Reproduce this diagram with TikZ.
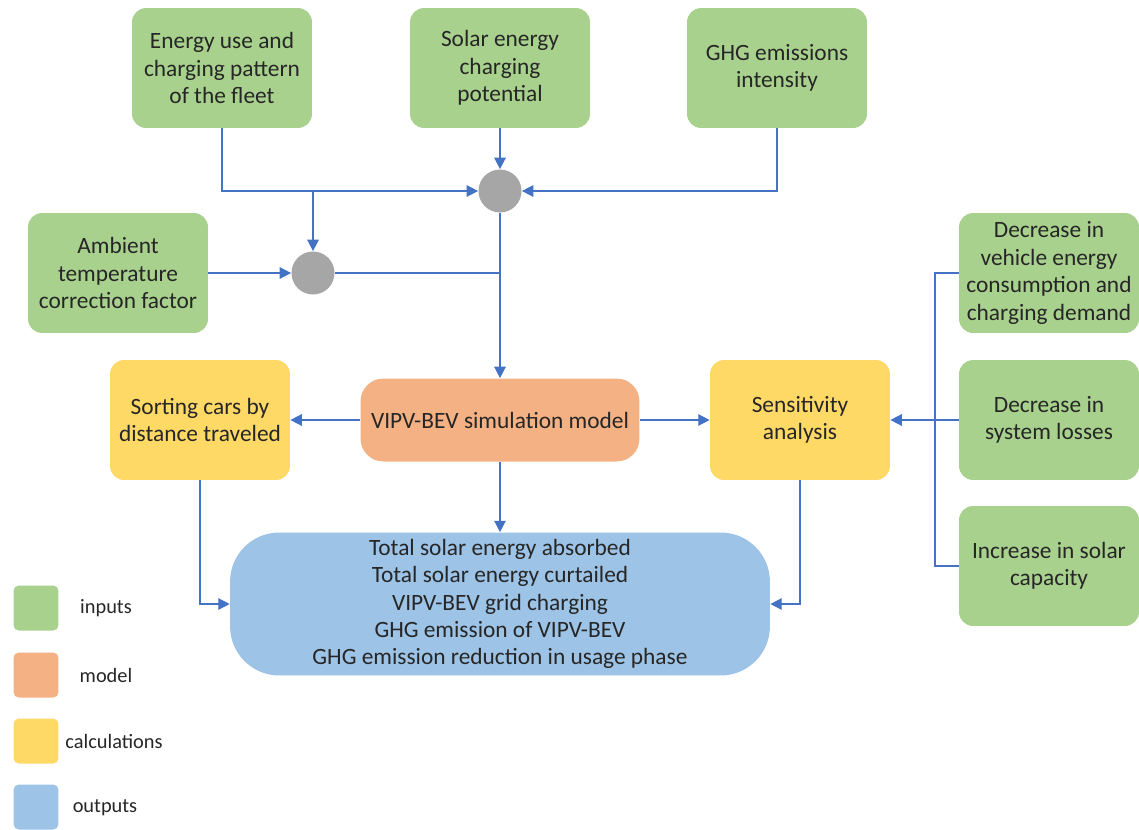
\documentclass[tikz,border=0pt]{standalone}
\usepackage{fontspec}
\setmainfont{Carlito}
\usetikzlibrary{arrows.meta}

\definecolor{ingreen}{HTML}{A9D18E}
\definecolor{modorange}{HTML}{F4B183}
\definecolor{calcyellow}{HTML}{FFD966}
\definecolor{outblue}{HTML}{9DC3E6}
\definecolor{arrowblue}{HTML}{4472C4}
\definecolor{dotgray}{HTML}{A6A6A6}

\tikzset{
 box/.style={rounded corners=8pt, align=center, inner sep=2pt,
  minimum width=3.6cm, minimum height=2.4cm,
  font=\fontsize{13.3}{15.6}\selectfont, text=black!85},
 inbox/.style={box, fill=ingreen},
 calcbox/.style={box, fill=calcyellow},
 dot/.style={circle, fill=dotgray, minimum size=0.86cm, inner sep=0pt},
 line/.style={arrowblue, line width=0.8pt},
 flow/.style={line, -{Triangle[length=6.5pt,width=6.5pt]}},
 keybox/.style={rounded corners=3pt, minimum size=0.9cm, inner sep=0pt},
 keytext/.style={font=\fontsize{11.6}{14}\selectfont, text=black!85}
}

\begin{document}
\begin{tikzpicture}[x=0.02cm, y=-0.02cm]

 \useasboundingbox (0,0) rectangle (1139,829);

 %%%  nodes

 % input nodes
 \node [inbox] (use) at (222,68) {Energy use and\\charging pattern\\of the fleet};
 \node [inbox] (solar) at (500,68) {Solar energy\\charging\\potential};
 \node [inbox] (ghg) at (777,68) {GHG emissions\\intensity};
 \node [inbox] (amb) at (118,273) {Ambient\\temperature\\correction factor};

 % join nodes
 \node [dot] (jtop) at (500,191) {};
 \node [dot] (jleft) at (313,273) {};

 % model and calculations
 \node [box, fill=modorange, rounded corners=13pt, minimum width=5.58cm,
  minimum height=1.66cm] (model) at (500,420) {VIPV-BEV simulation model};
 \node [calcbox] (sort) at (200,420) {Sorting cars by\\distance traveled};
 \node [calcbox] (sens) at (800,420) {Sensitivity\\analysis};

 % sensitivity inputs
 \node [inbox] (dcons) at (1049,273) {Decrease in\\vehicle energy\\consumption and\\charging demand};
 \node [inbox] (dloss) at (1049,420) {Decrease in\\system losses};
 \node [inbox] (isol) at (1049,566) {Increase in solar\\capacity};
 \coordinate (bus) at (935,420);

 % outputs
 \node [box, fill=outblue, rounded corners=28pt, minimum width=10.8cm,
  minimum height=2.86cm, inner sep=0pt] (out) at (500,604)
  {Total solar energy absorbed\\Total solar energy curtailed\\VIPV-BEV grid charging\\GHG emission of VIPV-BEV\\GHG emission reduction in usage phase};

 % legend
 \node [keybox, fill=ingreen] (kin) at (36,608) {};
 \node [keybox, fill=modorange] (kmod) at (36,675) {};
 \node [keybox, fill=calcyellow] (kcalc) at (36,741) {};
 \node [keybox, fill=outblue] (kout) at (36,807) {};
 \node [keytext] (lin) at (106,608) {inputs};
 \node [keytext] (lmod) at (106,675) {model};
 \node [keytext] (lcalc) at (114,741) {calculations};
 \node [keytext] (lout) at (105,808) {outputs};

 %%%  connectors

 \draw [flow] (use.south) |- (jtop.west);
 \draw [flow] (jleft |- jtop.west) -- (jleft.north);
 \draw [flow] (solar) -- (jtop);
 \draw [flow] (ghg.south) |- (jtop.east);
 \draw [flow] (amb) -- (jleft);
 \draw [line] (jleft) -- (jleft -| jtop);
 \draw [flow] (jtop) -- (model);

 \draw [flow] (model) -- (sort);
 \draw [flow] (model) -- (sens);
 \draw [flow] (model) -- (out);
 \draw [flow] (sort.south) |- (out.west);
 \draw [flow] (sens.south) |- (out.east);

 \draw [line] (dcons.west) -| (bus) |- (isol.west);
 \draw [flow] (dloss) -- (sens);

\end{tikzpicture}
\end{document}
